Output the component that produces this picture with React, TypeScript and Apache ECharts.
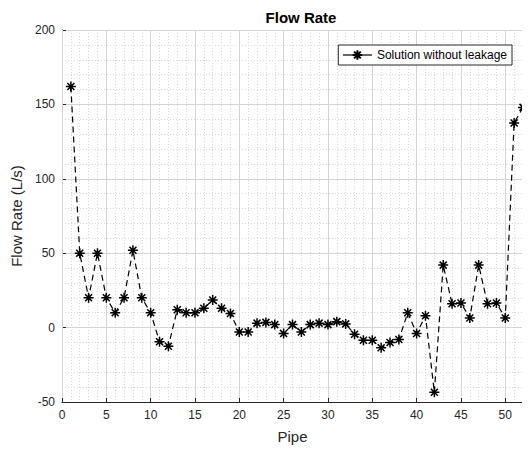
import React, { useEffect, useRef } from "react";
import * as echarts from "echarts";

const pipes: number[] = Array.from({ length: 52 }, (_, i) => i + 1);
const flowRate: number[] = [
  162, 50, 20, 50, 20, 10, 20, 52, 20, 10,
  -9.5, -12.5, 12, 10, 10, 13, 18.5, 13, 9.5, -3,
  -3, 3, 3.5, 2, -4, 2, -3, 2, 3, 2,
  4, 2.5, -4.5, -8.5, -8.5, -13.5, -10, -8, 10, -4,
  8, -43.5, 42, 16, 16.5, 6.5, 42, 16, 16.5, 6.5,
  137.5, 148,
];
const seriesName = "Solution without leakage";

const asterisk =
  "path://M0,-10L0,10M-10,0L10,0M-7,-7L7,7M-7,7L7,-7";

export default function App() {
  const ref = useRef<HTMLDivElement>(null);
  useEffect(() => {
    if (!ref.current) return;
    const chart = echarts.init(ref.current, null, { renderer: "svg" });
    const axisColor = "#262626";
    const font = "'Liberation Sans', Arial, Helvetica, sans-serif";
    const data = pipes.map((p, i) => [p, flowRate[i]]);
    chart.setOption({
      animation: false,
      backgroundColor: "#ffffff",
      textStyle: { fontFamily: font },
      title: {
        text: "Flow Rate",
        left: 296,
        textAlign: "center",
        top: 5,
        textStyle: { fontSize: 15, fontWeight: "bold", color: "#000", fontFamily: font },
      },
      legend: {
        data: [seriesName],
        right: 18,
        top: 45,
        padding: [4, 5, 4, 4],
        itemWidth: 29,
        itemHeight: 12,
        borderColor: axisColor,
        borderWidth: 1,
        backgroundColor: "#ffffff",
        lineStyle: { type: "solid", width: 1.2, color: "#000" },
        textStyle: { fontSize: 12, color: "#000", fontFamily: font },
      },
      grid: { left: 62, right: 7, top: 30, bottom: 51 },
      xAxis: [
        {
          type: "value",
          min: 0,
          max: 52,
          interval: 1,
          position: "bottom",
          axisLine: { show: false, onZero: false },
          axisTick: { show: false },
          axisLabel: { show: false },
          splitLine: { show: true, lineStyle: { color: "#d9d9d9", width: 1, type: [1, 2] } },
          z: 0,
        },
        {
          type: "value",
          min: 0,
          max: 52,
          interval: 5,
          position: "bottom",
          name: "Pipe",
          nameLocation: "middle",
          nameGap: 27,
          nameTextStyle: { fontSize: 15, color: axisColor, fontFamily: font },
          axisLine: { show: true, onZero: false, lineStyle: { color: axisColor, width: 1 } },
          axisTick: { show: true, inside: true, length: 4, lineStyle: { color: axisColor } },
          axisLabel: {
            showMaxLabel: false,
            fontSize: 12,
            color: axisColor,
            margin: 7,
            fontFamily: font,
          },
          splitLine: { show: true, lineStyle: { color: "#d4d4d4", width: 1, type: "solid" } },
          z: 2,
        },
      ],
      yAxis: {
        type: "value",
        min: -50,
        max: 200,
        interval: 50,
        name: "Flow Rate (L/s)",
        nameLocation: "middle",
        nameGap: 34,
        nameTextStyle: { fontSize: 15, color: axisColor, fontFamily: font },
        axisLine: { show: true, onZero: false, lineStyle: { color: axisColor, width: 1 } },
        axisTick: { show: true, inside: true, length: 4, lineStyle: { color: axisColor } },
        axisLabel: { fontSize: 12, color: axisColor, margin: 7, fontFamily: font },
        splitLine: { show: true, lineStyle: { color: "#d4d4d4", width: 1 } },
        minorTick: { show: false, splitNumber: 5 },
        minorSplitLine: { show: true, lineStyle: { color: "#d9d9d9", width: 1, type: [1, 2] } },
      },
      series: [
        {
          name: seriesName,
          type: "line",
          xAxisIndex: 1,
          data,
          symbol: asterisk,
          symbolSize: 10,
          showAllSymbol: true,
          itemStyle: { color: "#000", borderColor: "#000", borderWidth: 1.5 },
          lineStyle: { color: "#000", width: 1.2, type: [6, 4] },
          z: 5,
        },
      ],
    });
    return () => chart.dispose();
  }, []);
  return <div ref={ref} style={{ width: 530, height: 453, margin: -8 }} />;
}
